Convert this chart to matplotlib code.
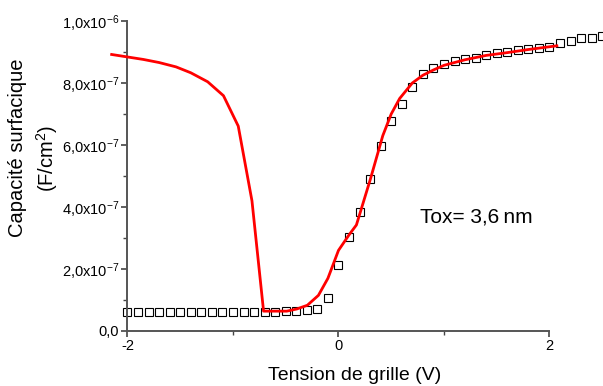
import matplotlib
matplotlib.use("Agg")
import matplotlib.pyplot as plt
import numpy as np
from matplotlib.ticker import FixedLocator, MultipleLocator

plt.rcParams['font.family'] = ['Liberation Sans', 'DejaVu Sans']
plt.rcParams['mathtext.fontset'] = 'custom'
plt.rcParams['mathtext.rm'] = 'Liberation Sans'
plt.rcParams['mathtext.it'] = 'Liberation Sans'
plt.rcParams['mathtext.default'] = 'regular'

# Measured data (squares)
meas_v = [-2.0, -1.9, -1.8, -1.7, -1.6, -1.5, -1.4, -1.3, -1.2, -1.1, -1.0, -0.9, -0.8,
          -0.7, -0.6, -0.5, -0.4, -0.3, -0.2, -0.1, 0.0, 0.1, 0.2, 0.3, 0.4, 0.5, 0.6,
          0.7, 0.8, 0.9, 1.0, 1.1, 1.2, 1.3, 1.4, 1.5, 1.6, 1.7, 1.8, 1.9, 2.0, 2.1,
          2.2, 2.3, 2.4, 2.5]
meas_c = [6.0e-8, 6.0e-8, 6.0e-8, 6.0e-8, 6.0e-8, 6.0e-8, 6.0e-8, 6.0e-8, 6.0e-8, 6.0e-8,
          6.0e-8, 6.1e-8, 6.1e-8, 6.2e-8, 6.2e-8, 6.3e-8, 6.4e-8, 6.7e-8, 7.2e-8, 1.08e-7,
          2.13e-7, 3.03e-7, 3.83e-7, 4.90e-7, 5.97e-7, 6.77e-7, 7.32e-7, 7.88e-7, 8.28e-7,
          8.47e-7, 8.60e-7, 8.70e-7, 8.76e-7, 8.82e-7, 8.91e-7, 8.97e-7, 9.01e-7, 9.05e-7,
          9.09e-7, 9.13e-7, 9.17e-7, 9.28e-7, 9.36e-7, 9.44e-7, 9.46e-7, 9.52e-7]

# Simulated curve (red line)
sim_v = [-2.15, -2.0, -1.85, -1.7, -1.54, -1.4, -1.24, -1.09, -0.95, -0.82, -0.71, -0.6,
         -0.49, -0.395, -0.295, -0.19, -0.1, 0.0, 0.1, 0.17, 0.3, 0.42, 0.5, 0.58, 0.7,
         0.8, 0.9, 1.0, 1.2, 1.4, 1.6, 1.8, 2.07]
sim_c = [8.92e-7, 8.84e-7, 8.76e-7, 8.66e-7, 8.52e-7, 8.33e-7, 8.04e-7, 7.59e-7, 6.61e-7,
         4.2e-7, 6.4e-8, 6.4e-8, 6.4e-8, 7.1e-8, 8.3e-8, 1.15e-7, 1.7e-7, 2.6e-7, 3.1e-7,
         3.42e-7, 4.87e-7, 6.3e-7, 7.0e-7, 7.5e-7, 8.0e-7, 8.25e-7, 8.42e-7, 8.57e-7,
         8.75e-7, 8.89e-7, 8.98e-7, 9.08e-7, 9.2e-7]

x_ticks = [-2, 0, 2]
x_ticklabels = ['-2', '0', '2']
y_ticks = [0, 2e-7, 4e-7, 6e-7, 8e-7, 1e-6]
y_ticklabels = ['0,0', r'2,0x10$^{-7}$', r'4,0x10$^{-7}$', r'6,0x10$^{-7}$',
                r'8,0x10$^{-7}$', r'1,0x10$^{-6}$']

fig = plt.figure(figsize=(6.03, 3.86), dpi=100)
ax = fig.add_axes([0.2114, 0.1425, 0.7873, 0.8031])

ax.plot(meas_v, meas_c, linestyle='none', marker='s', markersize=5.6,
        markerfacecolor='white', markeredgecolor='black', markeredgewidth=0.8,
        clip_on=False, zorder=2)
ax.plot(sim_v, sim_c, color='red', linewidth=2.0, clip_on=False, zorder=3)

ax.set_xlim(-2, 2.5)
ax.set_ylim(0, 1e-6)

for s in ['top', 'right']:
    ax.spines[s].set_visible(False)
for s in ['left', 'bottom']:
    ax.spines[s].set_color('#555555')
    ax.spines[s].set_linewidth(1.4)
ax.spines['bottom'].set_bounds(-2, 2)
ax.spines['left'].set_bounds(0, 1e-6)

ax.xaxis.set_major_locator(FixedLocator(x_ticks))
ax.set_xticklabels(x_ticklabels)
ax.xaxis.set_minor_locator(FixedLocator([-1, 1]))
ax.yaxis.set_major_locator(FixedLocator(y_ticks))
ax.set_yticklabels(y_ticklabels)
ax.yaxis.set_minor_locator(FixedLocator([1e-7, 3e-7, 5e-7, 7e-7, 9e-7]))

ax.tick_params(which='major', direction='out', length=4, width=1.2, color='#444444',
               labelsize=10.5, pad=2)
ax.tick_params(which='minor', direction='out', length=3, width=1.0, color='#444444')

ax.text(0.77, 3.67e-7, 'Tox= 3,6\u2009nm', fontsize=15, ha='left', va='center')

fig.text(0.5 * (268 + 442) / 603, 1 - 376 / 386, 'Tension de grille (V)',
         fontsize=14, ha='center', va='center')
fig.text(18 / 603, 1 - 148 / 386, 'Capacité surfacique', fontsize=14.5,
         rotation=90, ha='center', va='center')
fig.text(47 / 603, 1 - 158 / 386, '(F/cm$^{2}$)', fontsize=14.5,
         rotation=90, ha='center', va='center')

fig.savefig('out.png', dpi=100)
